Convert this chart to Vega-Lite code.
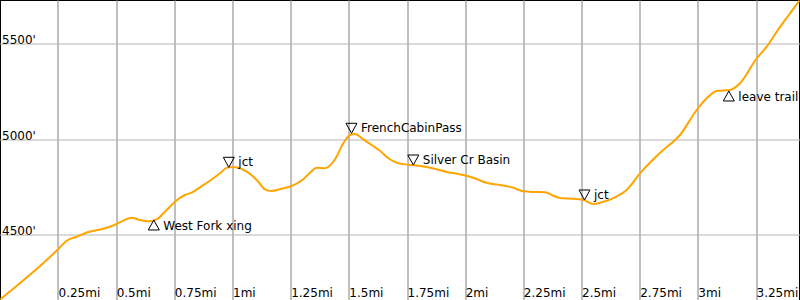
{
  "$schema": "https://vega.github.io/schema/vega-lite/v6.json",
  "width": 800,
  "height": 301,
  "autosize": {"type": "none"},
  "padding": 0,
  "background": "white",
  "config": {
    "view": {"stroke": "black", "strokeWidth": 2},
    "font": "DejaVu Sans",
    "axis": {"translate": 0}
  },
  "datasets": {
    "profile": [
      {"mi": 0.0, "elev": 4163.4},
      {"mi": 0.0631, "elev": 4226.2},
      {"mi": 0.1348, "elev": 4299.5},
      {"mi": 0.1993, "elev": 4369.1},
      {"mi": 0.2492, "elev": 4426.7},
      {"mi": 0.2853, "elev": 4470.2},
      {"mi": 0.3282, "elev": 4491.1},
      {"mi": 0.3781, "elev": 4515.7},
      {"mi": 0.4426, "elev": 4533.0},
      {"mi": 0.4928, "elev": 4553.9},
      {"mi": 0.5285, "elev": 4574.9},
      {"mi": 0.5646, "elev": 4590.6},
      {"mi": 0.6003, "elev": 4578.6},
      {"mi": 0.636, "elev": 4571.8},
      {"mi": 0.6721, "elev": 4582.2},
      {"mi": 0.7077, "elev": 4622.0},
      {"mi": 0.7507, "elev": 4674.4},
      {"mi": 0.7937, "elev": 4709.5},
      {"mi": 0.8225, "elev": 4721.5},
      {"mi": 0.8582, "elev": 4749.8},
      {"mi": 0.9011, "elev": 4784.3},
      {"mi": 0.9441, "elev": 4823.1},
      {"mi": 0.9798, "elev": 4854.5},
      {"mi": 1.0086, "elev": 4854.5},
      {"mi": 1.0589, "elev": 4831.5},
      {"mi": 1.1087, "elev": 4779.1},
      {"mi": 1.1375, "elev": 4739.3},
      {"mi": 1.1663, "elev": 4730.4},
      {"mi": 1.2093, "elev": 4742.4},
      {"mi": 1.2592, "elev": 4760.2},
      {"mi": 1.3021, "elev": 4791.7},
      {"mi": 1.3309, "elev": 4826.2},
      {"mi": 1.3597, "elev": 4852.4},
      {"mi": 1.3954, "elev": 4849.2},
      {"mi": 1.4384, "elev": 4896.4},
      {"mi": 1.4741, "elev": 4980.1},
      {"mi": 1.5029, "elev": 5023.6},
      {"mi": 1.5244, "elev": 5028.8},
      {"mi": 1.56, "elev": 5001.1},
      {"mi": 1.5961, "elev": 4971.2},
      {"mi": 1.6318, "elev": 4941.4},
      {"mi": 1.6675, "elev": 4901.6},
      {"mi": 1.7105, "elev": 4875.4},
      {"mi": 1.7534, "elev": 4868.1},
      {"mi": 1.811, "elev": 4859.7},
      {"mi": 1.8755, "elev": 4844.0},
      {"mi": 1.9185, "elev": 4829.9},
      {"mi": 1.9684, "elev": 4819.4},
      {"mi": 2.0259, "elev": 4802.1},
      {"mi": 2.0973, "elev": 4770.7},
      {"mi": 2.1403, "elev": 4763.4},
      {"mi": 2.2047, "elev": 4747.7},
      {"mi": 2.2477, "elev": 4728.8},
      {"mi": 2.295, "elev": 4725.2},
      {"mi": 2.341, "elev": 4723.6},
      {"mi": 2.3767, "elev": 4705.8},
      {"mi": 2.4127, "elev": 4692.2},
      {"mi": 2.4557, "elev": 4690.1},
      {"mi": 2.5056, "elev": 4683.3},
      {"mi": 2.5486, "elev": 4662.3},
      {"mi": 2.5847, "elev": 4671.2},
      {"mi": 2.6418, "elev": 4697.4},
      {"mi": 2.6921, "elev": 4735.6},
      {"mi": 2.7493, "elev": 4823.1},
      {"mi": 2.8065, "elev": 4896.4},
      {"mi": 2.8494, "elev": 4945.1},
      {"mi": 2.9211, "elev": 5023.6},
      {"mi": 2.9929, "elev": 5154.5},
      {"mi": 3.0359, "elev": 5215.7},
      {"mi": 3.0789, "elev": 5254.0},
      {"mi": 3.1361, "elev": 5259.2},
      {"mi": 3.179, "elev": 5294.3},
      {"mi": 3.2508, "elev": 5425.2},
      {"mi": 3.2938, "elev": 5485.9},
      {"mi": 3.3368, "elev": 5564.4},
      {"mi": 3.394, "elev": 5660.8},
      {"mi": 3.4339, "elev": 5726.7}
    ],
    "waypoints": [
      {"mi": 0.6596, "elev": 4578.6, "name": "West Fork xing", "dir": "up"},
      {"mi": 0.982, "elev": 4854.5, "name": "jct", "dir": "down"},
      {"mi": 1.5093, "elev": 5032.5, "name": "FrenchCabinPass", "dir": "down"},
      {"mi": 1.7749, "elev": 4866.5, "name": "Silver Cr Basin", "dir": "down"},
      {"mi": 2.5107, "elev": 4683.3, "name": "jct", "dir": "down"},
      {"mi": 3.131, "elev": 5254.0, "name": "leave trail", "dir": "up"}
    ]
  },
  "encoding": {
    "x": {
      "field": "mi", "type": "quantitative",
      "scale": {"domain": [-0.0014, 3.4369], "nice": false, "zero": false},
      "axis": {
        "orient": "bottom", "title": null,
        "values": [0.25, 0.5, 0.75, 1, 1.25, 1.5, 1.75, 2, 2.25, 2.5, 2.75, 3, 3.25],
        "labelExpr": "datum.value + 'mi'",
        "grid": true, "gridColor": "#808080", "gridOpacity": 1, "gridWidth": 1,
        "domain": false, "ticks": false, "tickSize": 0,
        "labelAlign": "left", "labelBaseline": "alphabetic",
        "labelPadding": -4.5, "labelDx": 1.5,
        "labelFont": "DejaVu Sans", "labelFontSize": 12, "labelColor": "black",
        "labelFlush": false, "labelOverlap": false, "labelBound": false
      }
    },
    "y": {
      "field": "elev", "type": "quantitative",
      "scale": {"domain": [4154.5, 5730.4], "nice": false, "zero": false},
      "axis": {
        "orient": "left", "title": null,
        "values": [4500, 5000, 5500],
        "labelExpr": "datum.value + \"'\"",
        "grid": true, "gridColor": "#b4b4b4", "gridOpacity": 1, "gridWidth": 1,
        "domain": false, "ticks": false, "tickSize": 0,
        "labelAlign": "left", "labelBaseline": "alphabetic",
        "labelPadding": -2, "labelDy": -4,
        "labelFont": "DejaVu Sans", "labelFontSize": 12, "labelColor": "black",
        "labelOverlap": false, "labelBound": false, "labelFlush": false
      }
    }
  },
  "layer": [
    {
      "data": {"name": "profile"},
      "mark": {"type": "line", "color": "#ffa500", "strokeWidth": 2, "interpolate": "monotone"}
    },
    {
      "data": {"name": "waypoints"},
      "mark": {"type": "point", "filled": false, "color": "black", "strokeWidth": 1, "size": 100, "opacity": 1},
      "encoding": {
        "shape": {
          "field": "dir", "type": "nominal",
          "scale": {"domain": ["up", "down"], "range": ["M0,0L1.1,2L-1.1,2Z", "M0,0L1.1,-2L-1.1,-2Z"]},
          "legend": null
        }
      }
    },
    {
      "data": {"name": "waypoints"},
      "transform": [{"filter": "datum.dir === 'up'"}],
      "mark": {"type": "text", "align": "left", "baseline": "alphabetic", "dx": 9.5, "dy": 10, "font": "DejaVu Sans", "fontSize": 12, "color": "black"},
      "encoding": {"text": {"field": "name"}}
    },
    {
      "data": {"name": "waypoints"},
      "transform": [{"filter": "datum.dir === 'down'"}],
      "mark": {"type": "text", "align": "left", "baseline": "alphabetic", "dx": 9.5, "dy": -1, "font": "DejaVu Sans", "fontSize": 12, "color": "black"},
      "encoding": {"text": {"field": "name"}}
    }
  ]
}
